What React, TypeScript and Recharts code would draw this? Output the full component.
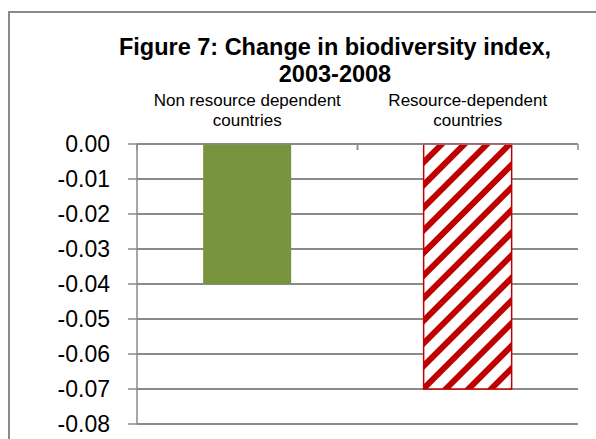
import { BarChart, Bar, XAxis, YAxis, CartesianGrid, Cell } from 'recharts';

// Change in biodiversity index, 2003-2008
const categories = ['Non resource dependent countries', 'Resource-dependent countries'];
const categoryLines = [
    ['Non resource dependent', 'countries'],
    ['Resource-dependent', 'countries'],
];
const indexChange = [-0.04, -0.07];
const yTicks = [0, -0.01, -0.02, -0.03, -0.04, -0.05, -0.06, -0.07, -0.08];

const data = categories.map((name, i) => ({ name, change: indexChange[i] }));

const AXIS_GREY = '#8a8a8a';
const FONT = '"Liberation Sans", Arial, sans-serif';

// Two-line category label above the top axis, plus the boundary tick marks
function CategoryTick(props: any) {
    const { x, y, payload, index } = props;
    const lines = categoryLines[index] ?? [String(payload.value)];
    const half = payload.offset ?? 0;
    return (
        <g>
            <line x1={x - half} x2={x - half} y1={y} y2={y + 6} stroke={AXIS_GREY} strokeWidth={1.5} />
            <line x1={x + half} x2={x + half} y1={y} y2={y + 6} stroke={AXIS_GREY} strokeWidth={1.5} />
            {lines.map((line, i) => (
                <text key={i} x={x} y={y - 38 + i * 19.5} textAnchor="middle" fill="#000" fontSize={17} fontFamily={FONT}>
                    {line}
                </text>
            ))}
        </g>
    );
}

export default function App() {
    return (
        // fixed to the viewport so the page itself never scrolls
        <div style={{ position: 'fixed', left: 0, top: 0, width: 596, height: 439, overflow: 'hidden', background: '#fff' }}>
            {/* chart area frame, runs off the right and bottom edges */}
            <div style={{
                position: 'absolute',
                left: 8,
                top: 11,
                width: 620,
                height: 460,
                borderLeft: `2px solid ${AXIS_GREY}`,
                borderTop: `2px solid ${AXIS_GREY}`,
            }} />
            <div style={{
                position: 'absolute',
                left: 35,
                top: 34,
                width: 600,
                textAlign: 'center',
                fontFamily: FONT,
                fontWeight: 700,
                fontSize: 23.5,
                lineHeight: '27px',
                color: '#000',
            }}>
                <div>Figure 7: Change in biodiversity index,</div>
                <div>2003-2008</div>
            </div>
            <div style={{ position: 'absolute', left: 8, top: 8 }}>
                <BarChart
                    width={588}
                    height={431}
                    data={data}
                    margin={{ top: 76, right: 18, bottom: 15, left: 0 }}
                    barCategoryGap="30%"
                >
                    <defs>
                        <pattern id="redStripes" width="16" height="16" patternUnits="userSpaceOnUse" patternTransform="rotate(45)">
                            <rect width="16" height="16" fill="#fff" />
                            <rect width="6" height="16" fill="#c00000" />
                        </pattern>
                    </defs>
                    <CartesianGrid vertical={false} stroke={AXIS_GREY} strokeWidth={2} />
                    <XAxis
                        dataKey="name"
                        orientation="top"
                        height={60}
                        axisLine={{ stroke: AXIS_GREY, strokeWidth: 1.5 }}
                        tickLine={false}
                        tickSize={0}
                        tickMargin={0}
                        interval={0}
                        tick={<CategoryTick />}
                    />
                    <YAxis
                        width={129}
                        domain={[-0.08, 0]}
                        ticks={yTicks}
                        interval={0}
                        tickFormatter={(v: number) => v.toFixed(2)}
                        axisLine={{ stroke: AXIS_GREY, strokeWidth: 1.5 }}
                        tickLine={{ stroke: AXIS_GREY, strokeWidth: 1.5 }}
                        tickSize={9}
                        tickMargin={18}
                        tick={{ fill: '#000', fontSize: 23, fontFamily: FONT }}
                    />
                    <Bar dataKey="change" isAnimationActive={false}>
                        <Cell fill="#77933c" />
                        <Cell fill="url(#redStripes)" stroke="#c00000" strokeWidth={1.5} />
                    </Bar>
                </BarChart>
            </div>
        </div>
    );
}
